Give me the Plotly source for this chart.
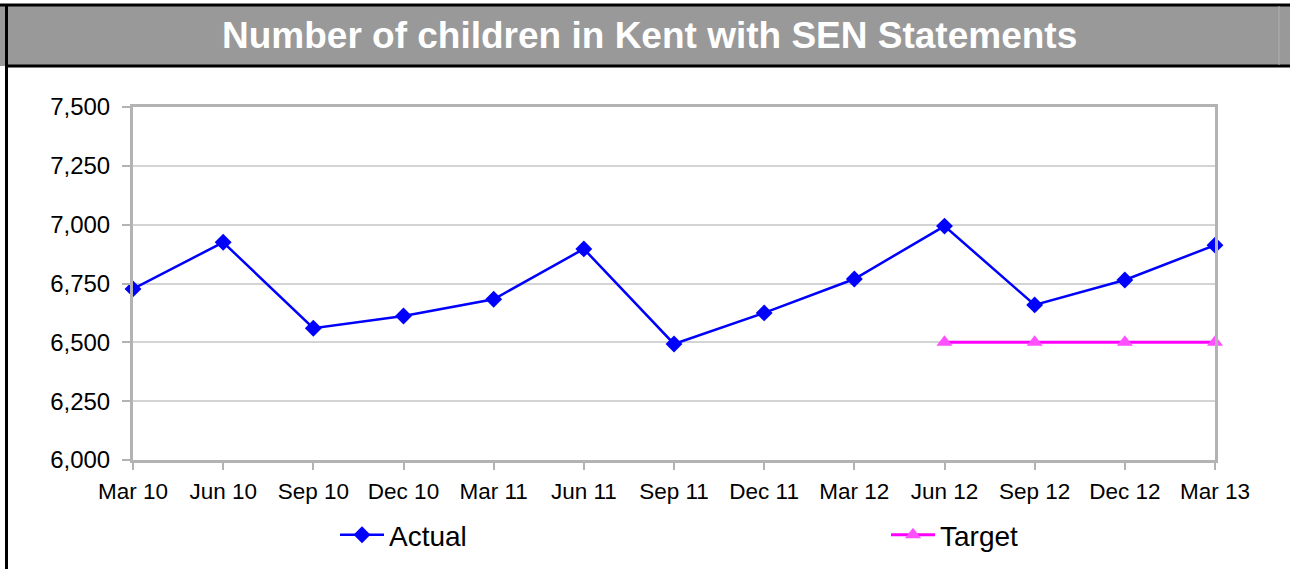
import plotly.graph_objects as go

categories = ["Mar 10", "Jun 10", "Sep 10", "Dec 10", "Mar 11", "Jun 11", "Sep 11",
              "Dec 11", "Mar 12", "Jun 12", "Sep 12", "Dec 12", "Mar 13"]
actual = [6727, 6925, 6560, 6612, 6683, 6897, 6493, 6625, 6769, 6994, 6659, 6765, 6913]
target_categories = ["Jun 12", "Sep 12", "Dec 12", "Mar 13"]
target = [6500, 6500, 6500, 6500]
y_ticks = [6000, 6250, 6500, 6750, 7000, 7250, 7500]
y_ticklabels = ["6,000", "6,250", "6,500", "6,750", "7,000", "7,250", "7,500"]

W, H = 1290, 569
FONT = "Liberation Sans, Arial, sans-serif"

fig = go.Figure()
fig.add_trace(go.Scatter(
    x=categories, y=actual, name="Actual", mode="lines+markers",
    line=dict(color="#0000ff", width=2.5),
    marker=dict(symbol="diamond", size=13, color="#0000ff"),
    cliponaxis=False, legend="legend", showlegend=True,
))
fig.add_trace(go.Scatter(
    x=target_categories, y=target, name="Target", mode="lines+markers",
    line=dict(color="#ff00ff", width=3),
    marker=dict(symbol="triangle-up", size=14, color="#ff50ff"),
    cliponaxis=False, legend="legend2", showlegend=True,
))

px0, px1 = 133 / W, 1215 / W
py0, py1 = (H - 460) / H, (H - 107) / H

fig.update_layout(
    width=W, height=H,
    margin=dict(l=0, r=0, t=0, b=0, autoexpand=False),
    paper_bgcolor="white", plot_bgcolor="white",
    font=dict(family=FONT, color="black"),
    xaxis=dict(
        domain=[px0, px1], type="category", categoryorder="array",
        categoryarray=categories, range=[0, 12], automargin=False,
        showgrid=False, showline=True, linecolor="#b3b3b3", linewidth=3,
        mirror=True, ticks="outside", ticklen=7, tickwidth=1.5,
        tickcolor="#b3b3b3", tickfont=dict(size=22.5, family=FONT),
        ticklabelstandoff=2, zeroline=False,
    ),
    yaxis=dict(
        domain=[py0, py1], range=[6000, 7500], automargin=False,
        tickvals=y_ticks, ticktext=y_ticklabels,
        showgrid=True, gridcolor="#d4d4d4", gridwidth=2,
        showline=True, linecolor="#b3b3b3", linewidth=3, mirror=True,
        ticks="outside", ticklen=8, tickwidth=2, tickcolor="#b3b3b3",
        tickfont=dict(size=24, family=FONT), ticklabelstandoff=7,
        zeroline=False,
    ),
    legend=dict(
        xref="container", yref="container",
        x=335 / W, y=(H - 535) / H, xanchor="left", yanchor="middle",
        orientation="h", font=dict(size=28, family=FONT),
        bgcolor="rgba(0,0,0,0)", itemwidth=44,
    ),
    legend2=dict(
        xref="container", yref="container",
        x=886 / W, y=(H - 535) / H, xanchor="left", yanchor="middle",
        orientation="h", font=dict(size=28, family=FONT),
        bgcolor="rgba(0,0,0,0)", itemwidth=44,
    ),
    shapes=[
        # title bar
        dict(type="rect", xref="paper", yref="paper",
             x0=0, x1=1, y0=(H - 66) / H, y1=(H - 5) / H,
             fillcolor="#999999", line=dict(width=0), layer="below"),
        dict(type="line", xref="paper", yref="paper",
             x0=0, x1=1, y0=(H - 5) / H, y1=(H - 5) / H,
             line=dict(color="black", width=3)),
        dict(type="line", xref="paper", yref="paper",
             x0=6 / W, x1=1, y0=(H - 66) / H, y1=(H - 66) / H,
             line=dict(color="black", width=3)),
        dict(type="line", xref="paper", yref="paper",
             x0=6.5 / W, x1=6.5 / W, y0=0, y1=(H - 4) / H,
             line=dict(color="black", width=3)),
        dict(type="line", xref="paper", yref="paper",
             x0=1279 / W, x1=1279 / W, y0=(H - 65) / H, y1=(H - 6) / H,
             line=dict(color="#b0b0b0", width=1)),
    ],
    annotations=[
        dict(text="<b>Number of children in Kent with SEN Statements</b>",
             xref="paper", yref="paper", x=649 / W, y=(H - 36) / H,
             xanchor="center", yanchor="middle", showarrow=False,
             font=dict(size=37, color="white", family=FONT)),
    ],
)

fig.write_html("out.html")
